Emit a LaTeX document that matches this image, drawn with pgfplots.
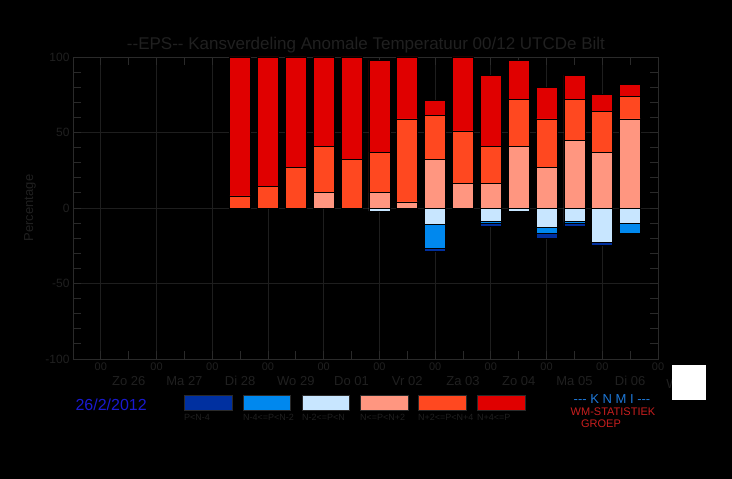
\documentclass[border=0pt]{standalone}
\usepackage{fontspec}
\setmainfont{Liberation Sans}
\usepackage{pgfplots}
\usepackage{pgfplotstable}
\pgfplotsset{compat=1.18}

\definecolor{ink}{RGB}{32,32,32}
\definecolor{frame}{RGB}{42,42,42}
\definecolor{gridc}{RGB}{30,30,30}
\definecolor{cPlow}{RGB}{0,48,160}
\definecolor{cPmid}{RGB}{0,136,238}
\definecolor{cPhi}{RGB}{200,230,255}
\definecolor{cN1}{RGB}{255,150,128}
\definecolor{cN2}{RGB}{255,72,32}
\definecolor{cN3}{RGB}{224,0,0}

% negatives: N-2<=P<N, N-4<=P<N-2, P<N-4 ; positives: N<=P<N+2, N+2<=P<N+4, N+4<=P
\pgfplotstableread{
x    lb   b    db   s   o   r
2.5  0    0    0    0   8   92
3.0  0    0    0    0   14  86
3.5  0    0    0    0   27  73
4.0  0    0    0    10  31  59
4.5  0    0    0    0   32  68
5.0  -2   0    0    10  27  61
5.5  0    0    0    4   55  41
6.0  -11  -16  -2   32  29  10
6.5  0    0    0    16  35  49
7.0  -9   -1   -2   16  25  47
7.5  -2   0    0    41  31  26
8.0  -13  -4   -3   27  32  21
8.5  -9   -1   -2   45  27  16
9.0  -23  0    -2   37  27  11
9.5  -10  -7   0    59  15  8
}\kans

\pgfplotsset{
  kansaxis/.style={
    scale only axis, width=585pt, height=302pt,
    at={(73pt,120pt)}, anchor=south west,
    xmin=-0.5, xmax=10, ymin=-100, ymax=100,
    ybar stacked, bar width=21pt,
    every axis plot/.append style={draw=black, line width=0.8pt},
  },
}

\begin{document}
\begin{tikzpicture}[x=1pt,y=1pt]
\fill[black] (0,0) rectangle (732,479);

% axis with grid and the negative (below normal) part of each bar
\begin{axis}[kansaxis,
  axis line style={frame, line width=0.8pt},
  tick style={frame, line width=0.8pt},
  major tick length=8pt, minor tick length=8pt,
  xtick={0,...,10}, xticklabel={00},
  minor x tick num=1,
  ytick={-100,-50,0,50,100},
  minor y tick num=4,
  xmajorgrids, ymajorgrids,
  grid style={gridc, line width=0.8pt},
  tick label style={ink, font=\fontsize{11}{11}\selectfont},
  yticklabel style={font=\fontsize{12}{12}\selectfont},
  /pgf/number format/assume math mode=true,
  extra x ticks={0.5,1.5,...,9.5},
  extra x tick labels={Zo 26,Ma 27,Di 28,Wo 29,Do 01,Vr 02,Za 03,Zo 04,Ma 05,Di 06},
  extra x tick style={grid=none, major tick length=0pt,
    tick label style={yshift=-14pt, font=\fontsize{13}{13}\selectfont}},
  ylabel={Percentage},
  every axis y label/.style={at={(axis description cs:0,0.5)}, xshift=-43pt,
    rotate=90, anchor=center, ink, font=\fontsize{13}{13}\selectfont},
]
\addplot[fill=cPhi] table[x=x, y=lb] \kans;
\addplot[fill=cPmid] table[x=x, y=b] \kans;
\addplot[fill=cPlow] table[x=x, y=db] \kans;
\end{axis}

% positive (above normal) part of each bar
\begin{axis}[kansaxis, hide axis]
\addplot[fill=cN1] table[x=x, y=s] \kans;
\addplot[fill=cN2] table[x=x, y=o] \kans;
\addplot[fill=cN3] table[x=x, y=r] \kans;
\end{axis}

% title
\node[ink, font=\fontsize{17}{17}\selectfont] at (366,434)
  {-{}-EPS-{}- Kansverdeling Anomale Temperatuur 00/12 UTCDe Bilt};

% date and legend
\node[anchor=west, text={rgb,255:red,26;green,26;blue,208},
  font=\fontsize{16}{16}\selectfont] at (72,74) {26/2/2012};
\foreach \xa/\xb/\col/\lab in {184/232/cPlow/P<N-4, 243/290/cPmid/N-4<=P<N-2,
    302/349/cPhi/N-2<=P<N, 360/408/cN1/N<=P<N+2, 418/466/cN2/N+2<=P<N+4,
    477/525/cN3/N+4<=P}{
  \filldraw[fill=\col, draw=frame, line width=0.8pt] (\xa,69) rectangle (\xb,84);
  \node[anchor=west, inner sep=0pt, ink, font=\fontsize{9}{9}\selectfont]
    at (\xa,62) {\lab};
}

% KNMI block
\node[text={rgb,255:red,30;green,120;blue,215}, font=\fontsize{13}{13}\selectfont]
  at (612,80) {-{}-{}- K N M I -{}-{}-};
\node[text={rgb,255:red,200;green,30;blue,30}, font=\fontsize{11}{11}\selectfont]
  at (613,67) {WM-STATISTIEK};
\node[text={rgb,255:red,200;green,30;blue,30}, font=\fontsize{11}{11}\selectfont]
  at (601,55) {GROEP};

% cut-off day label behind the white box
\node[ink, font=\fontsize{13}{13}\selectfont] at (685,95) {Wo 07};
\fill[white] (672,79) rectangle (706,114);
\end{tikzpicture}
\end{document}
